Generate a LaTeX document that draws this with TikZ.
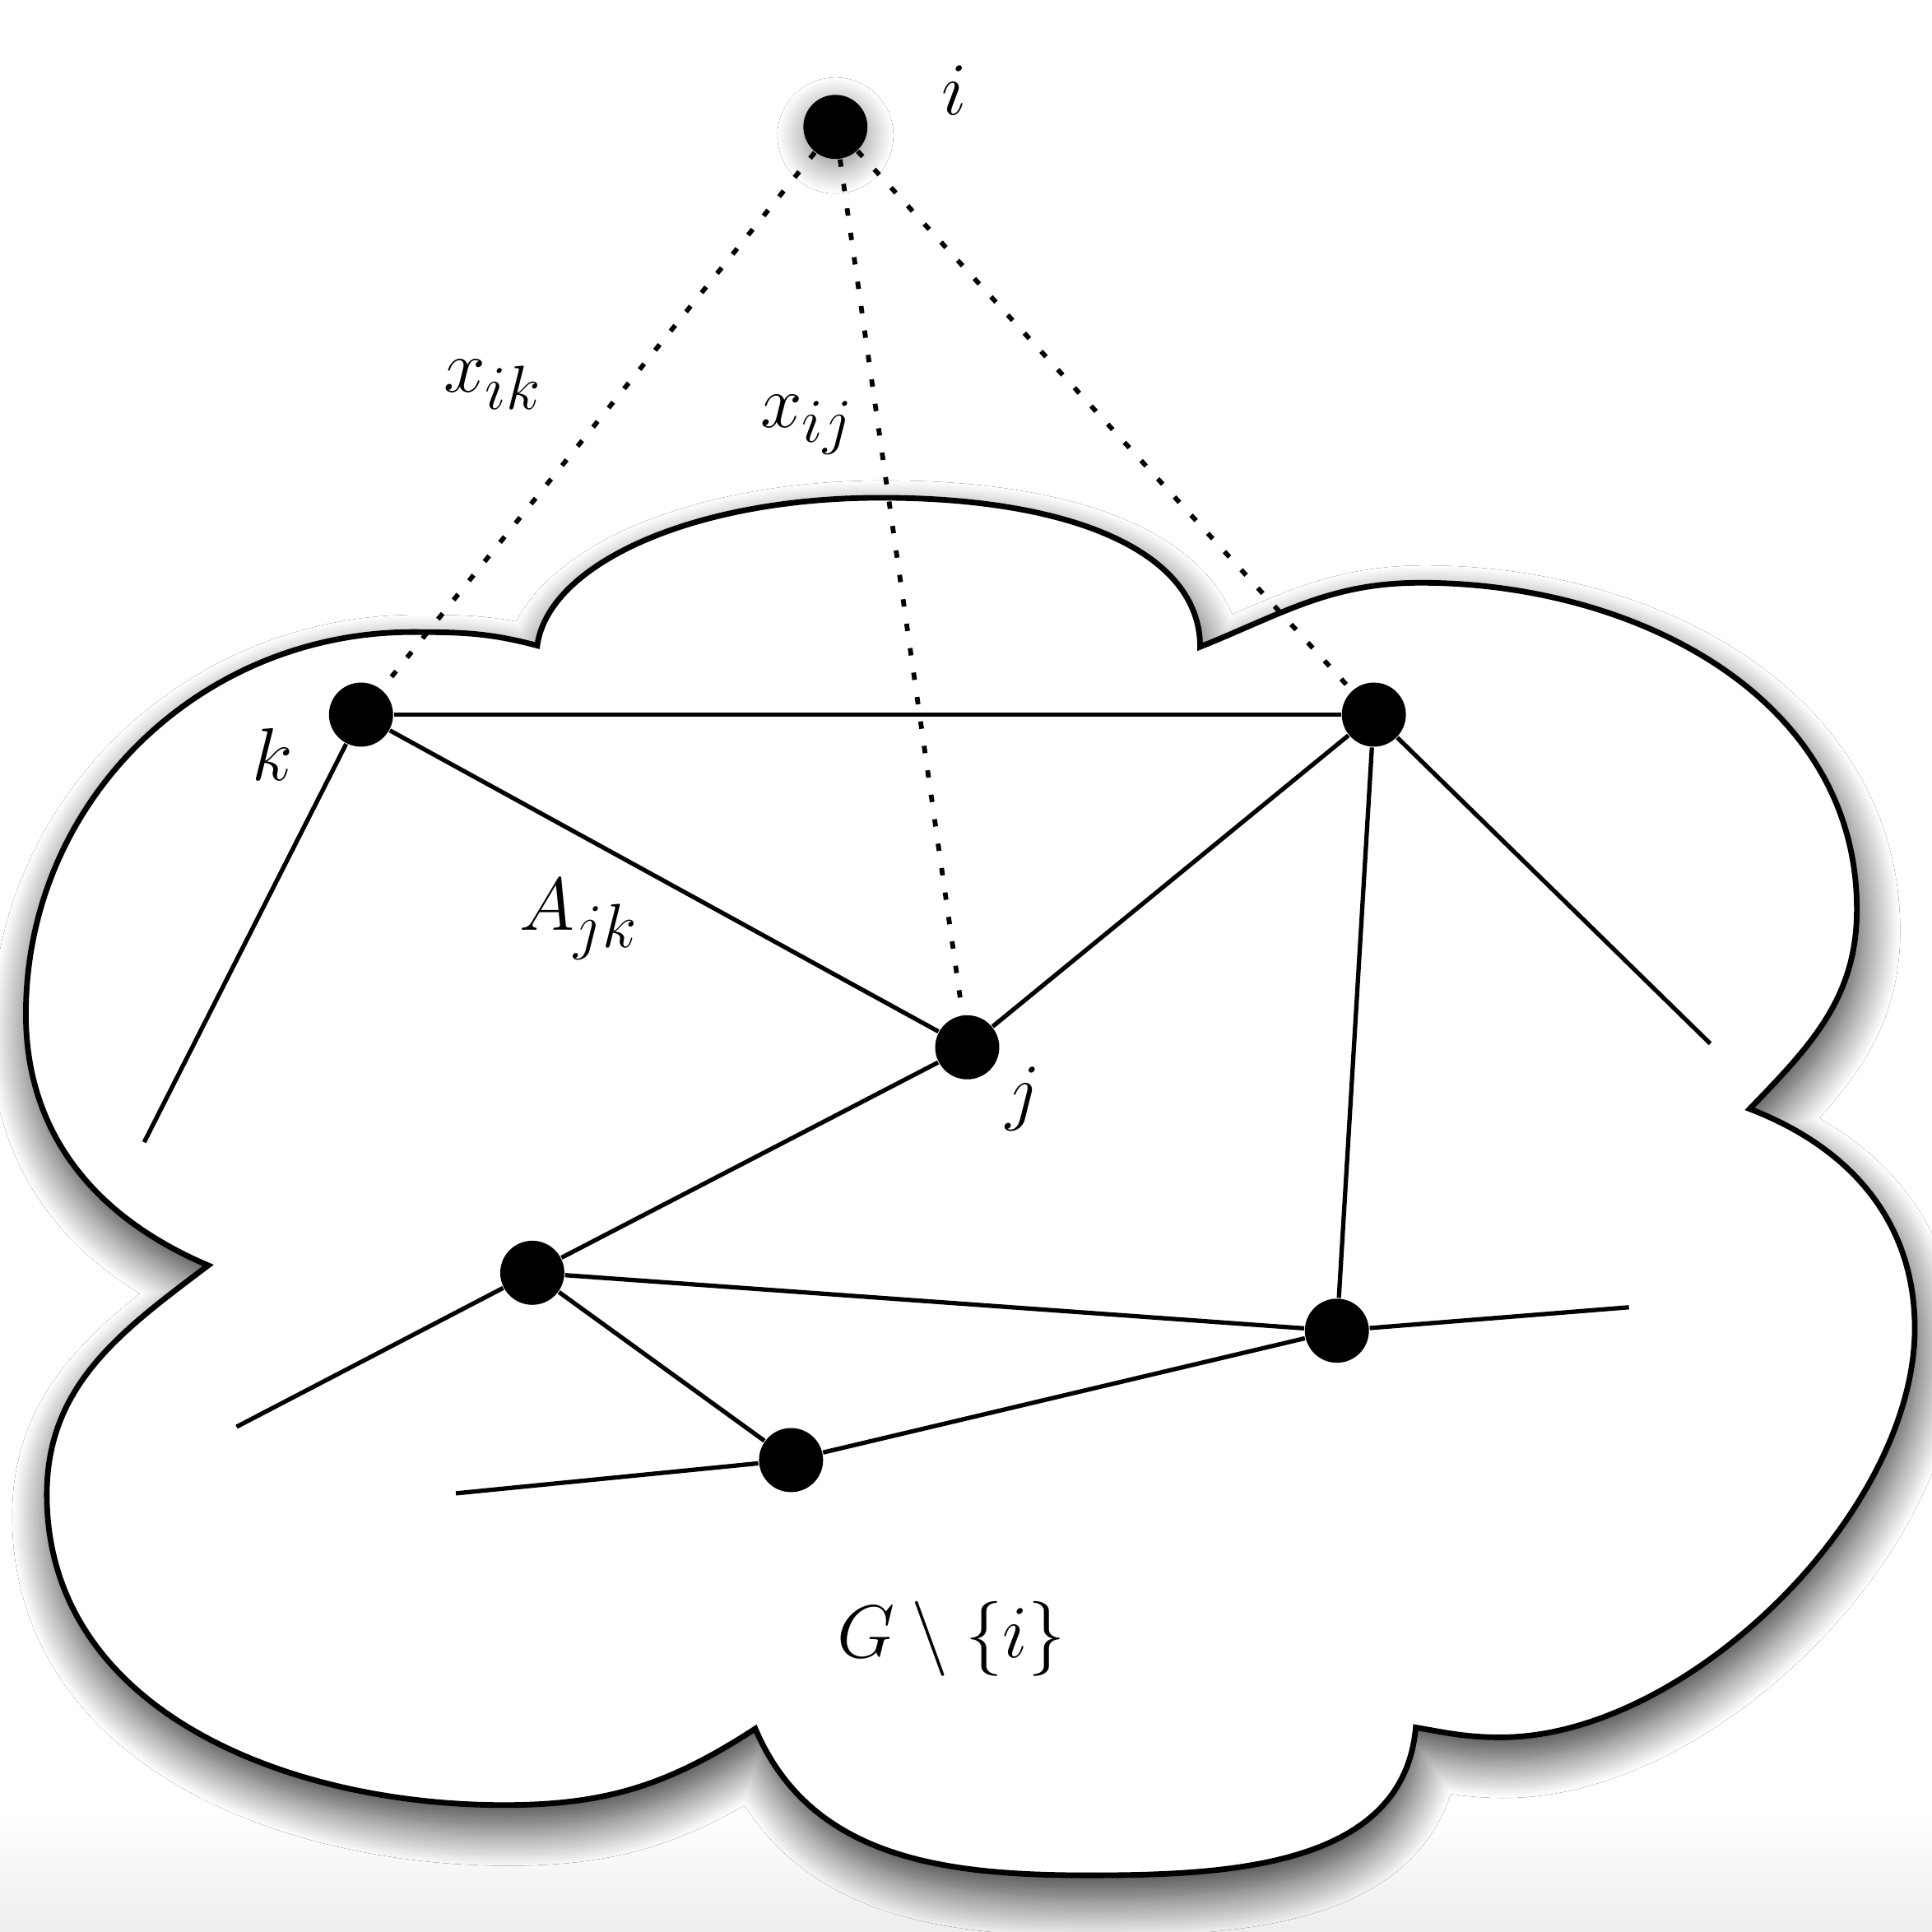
\documentclass[tikz,border=0pt]{standalone}
\usetikzlibrary{positioning,shadows.blur}

\begin{document}
\begin{tikzpicture}[
    vertex/.style={circle, fill=black, inner sep=0pt, minimum size=0.52cm},
    edge/.style={line width=1pt},
    link/.style={line width=1.1pt, dash pattern=on 1.7pt off 4pt},
    lbl/.style={font=\fontsize{19}{22}\selectfont, inner sep=1pt},
    cloudline/.style={fill=white, draw=black, line width=1.3pt,
        blur shadow={shadow xshift=1pt, shadow yshift=-5pt, shadow blur radius=9pt,
                     shadow blur steps=25, shadow opacity=80}}
]

% ===== CANVAS =====
\useasboundingbox (0,0) rectangle (15.68,15.68);
\fill[white] (0,0) rectangle (15.68,15.68);
\shade[top color=white, bottom color=gray!14] (0,0) rectangle (15.68,0.95);

% ===== CLOUD G \ {i} =====
\path[cloudline] (1.69,5.41)
    to[out=157, in=-90] (0.21,7.45)
    to[out=90, in=180] (3.35,10.55)
    to[out=0, in=165] (4.36,10.44)
    .. controls (4.45,11.10) and (5.62,11.64) .. (7.15,11.64)
    .. controls (8.70,11.64) and (9.74,11.20) .. (9.74,10.43)
    to[out=22, in=180] (11.53,10.95)
    to[out=0, in=90] (15.07,8.30)
    to[out=-90, in=46] (14.20,6.68)
    to[out=-21, in=90] (15.54,4.90)
    .. controls (15.54,3.40) and (13.69,1.58) .. (12.18,1.58)
    to[out=180, in=-10] (11.49,1.66)
    to[out=-95, in=0] (8.84,0.46)
    to[out=180, in=-67] (6.13,1.65)
    to[out=213, in=0] (4.09,1.03)
    to[out=180, in=-90] (0.38,3.55)
    to[out=90, in=217] (1.69,5.41) -- cycle;

% ===== VERTICES =====
\node[vertex, blur shadow={shadow xshift=0pt, shadow yshift=-2pt, shadow blur radius=6pt,
      shadow blur steps=20, shadow opacity=45}] (i) at (6.78,14.65) {};
\node[vertex] (k)  at (2.93,9.88) {};
\node[vertex] (ur) at (11.15,9.88) {};
\node[vertex] (j)  at (7.85,7.18) {};
\node[vertex] (ml) at (4.32,5.35) {};
\node[vertex] (lr) at (10.85,4.88) {};
\node[vertex] (bm) at (6.42,3.83) {};

% free ends
\coordinate (k0)  at (1.17,6.41);
\coordinate (ur0) at (13.88,7.21);
\coordinate (ml0) at (1.92,4.10);
\coordinate (bm0) at (3.70,3.56);
\coordinate (lr0) at (13.22,5.07);

% ===== LABELS =====
\node[lbl, above right=-0.13cm and 0.63cm of i] (ilbl) {$i$};
\node[lbl, below left=-0.12cm and 0.32cm of k] (klbl) {$k$};
\node[lbl, below right=-0.07cm and 0.08cm of j] (jlbl) {$j$};
\node[lbl] (xik) at (4.00,12.56) {$x_{ik}$};
\node[lbl] (xij) at (6.55,12.23) {$x_{ij}$};
\node[lbl] (ajk) at (4.70,8.22) {$A_{jk}$};
\node[lbl] (glbl) at (7.72,2.38) {$G\setminus\{i\}$};

% ===== EDGES =====
\draw[edge] (k) -- (ur);
\draw[edge] (k) -- (j);
\draw[edge] (k) -- (k0);
\draw[edge] (ur) -- (j);
\draw[edge] (ur) -- (ur0);
\draw[edge] (ur) -- (lr);
\draw[edge] (j) -- (ml);
\draw[edge] (ml) -- (lr);
\draw[edge] (ml) -- (bm);
\draw[edge] (ml) -- (ml0);
\draw[edge] (bm) -- (lr);
\draw[edge] (bm) -- (bm0);
\draw[edge] (lr) -- (lr0);

% ===== LINKS OF i =====
\draw[link] (i) -- (k);
\draw[link] (i) -- (j);
\draw[link] (i) -- (ur);

\end{tikzpicture}
\end{document}
